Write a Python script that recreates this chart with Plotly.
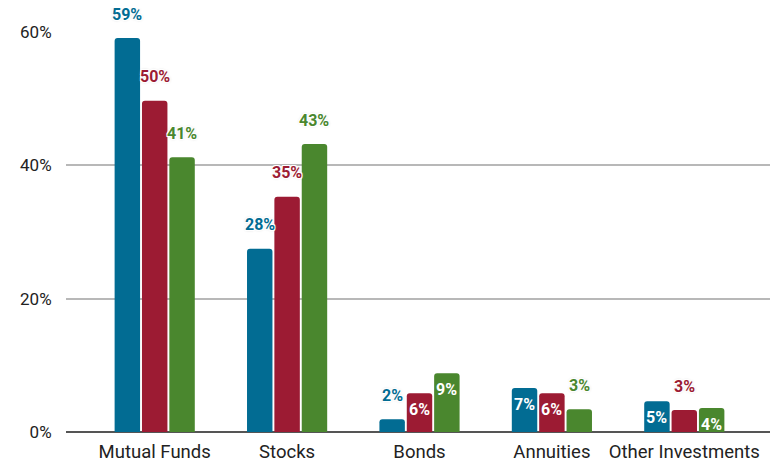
import plotly.graph_objects as go

categories = ["Mutual Funds", "Stocks", "Bonds", "Annuities", "Other Investments"]
series_a = [59.1, 27.5, 1.9, 6.6, 4.6]
series_b = [49.7, 35.3, 5.8, 5.8, 3.3]
series_c = [41.2, 43.2, 8.8, 3.4, 3.6]
# where each value label sits: "out" above the bar, "in" inside near the top
labels_a = ["out", "out", "out", "in", "in"]
labels_b = ["out", "out", "in", "in", "out"]
labels_c = ["out", "out", "in", "out", "in"]
y_ticks = [0, 20, 40, 60]

colors = ["#026C93", "#9C1B33", "#4A872E"]
bargap = 0.38
halo = ("-1px -1px 0 #fff, 1px -1px 0 #fff, -1px 1px 0 #fff, 1px 1px 0 #fff, "
        "0 0 3px #bbb")

fig = go.Figure()
for vals, color in zip([series_a, series_b, series_c], colors):
    fig.add_trace(go.Bar(
        x=categories, y=vals,
        marker=dict(color=color, cornerradius=3, line=dict(width=0)),
        hoverinfo="x+y", showlegend=False
    ))

slot = (1 - bargap) / 3
for j, (vals, pos, color) in enumerate(zip([series_a, series_b, series_c],
                                            [labels_a, labels_b, labels_c], colors)):
    for i, (v, p) in enumerate(zip(vals, pos)):
        inside = p == "in"
        fig.add_annotation(
            x=i + (j - 1) * slot, y=v, xref="x", yref="y",
            text=f"<b>{round(v)}%</b>", showarrow=False,
            yanchor="middle", yshift=-16 if inside else 24,
            font=dict(family="Roboto", size=16,
                      color="white" if inside else color,
                      shadow="none" if inside else halo)
        )

# page body adds an 8px offset, margins compensate for it
fig.update_layout(
    width=778, height=467,
    margin=dict(l=56, r=13, t=24, b=37),
    plot_bgcolor="white", paper_bgcolor="white",
    bargap=bargap, bargroupgap=0.07, barmode="group",
    font=dict(family="Roboto", size=17, color="#222"),
)
fig.update_xaxes(
    type="category", range=[-0.67, 4.67], showgrid=False,
    ticks="outside", ticklen=3, tickcolor="rgba(0,0,0,0)",
    tickfont=dict(size=18.5),
    showline=False, zeroline=False
)
fig.update_yaxes(
    range=[0, 60], tickvals=y_ticks, ticktext=[f"{t}%" for t in y_ticks],
    showgrid=True, gridcolor="#b8b8b8", gridwidth=1.5,
    zeroline=True, zerolinecolor="#555", zerolinewidth=2,
    ticks="outside", ticklen=10, tickcolor="rgba(0,0,0,0)"
)

fig.write_html("out.html")
